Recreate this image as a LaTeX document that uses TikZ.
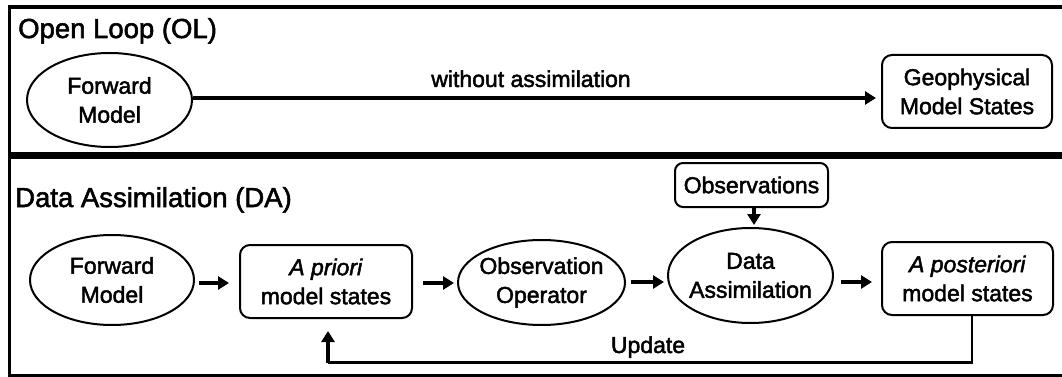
\documentclass[tikz,border=0pt]{standalone}
\usepackage{fontspec}
\setmainfont{Liberation Sans}[FakeBold=2, ItalicFeatures={FakeBold=2}]
\usetikzlibrary{shapes.geometric,arrows.meta}
\begin{document}
\begin{tikzpicture}[x=1pt,y=-1pt,
  every node/.style={inner sep=0pt, font=\fontsize{23}{29}\selectfont},
  oval/.style={ellipse, draw, line width=2pt, align=center, inner xsep=-4pt, inner ysep=0pt},
  rbox/.style={rectangle, rounded corners=10pt, draw, line width=2pt, align=center},
  arr/.style={line width=3.5pt, -{Triangle[length=11pt,width=13pt]}},
  frame/.style={line width=3.5pt},
  paneltitle/.style={font=\fontsize{27.5}{32}\selectfont, anchor=base west}]
\useasboundingbox (0,0) rectangle (1062,377);
% panels
\draw[frame] (9.5,7) rectangle (1063.5,154);
\draw[frame] (9.5,157.5) rectangle (1063.5,375.5);
% Open loop
\node[paneltitle] (t1) at (18,38) {Open Loop (OL)};
\node[oval, minimum width=165pt, minimum height=94pt] (fm1) at (109.5,100) {Forward\\Model};
\node[rbox, minimum width=170pt, minimum height=73pt] (geo) at (967,91.5) {Geophysical\\Model States};
\draw[arr, shorten >=5pt] (fm1.east |- 0,98) -- (geo.west |- 0,98);
\node[anchor=base] (wo) at (531,87) {without assimilation};
% Data assimilation
\node[paneltitle] (t2) at (15,207) {Data Assimilation (DA)};
\node[oval, minimum width=164pt, minimum height=90pt] (fm2) at (112,280) {Forward\\Model};
\node[rbox, minimum width=172pt, minimum height=73pt] (apri) at (326,281.5) {\textit{A priori}\\model states};
\node[oval, minimum width=167pt, minimum height=85pt] (oo) at (541.5,282.5) {Observation\\Operator};
\node[oval, minimum width=165pt, minimum height=95pt] (da) at (750.5,275.5) {Data\\Assimilation};
\node[rbox, rounded corners=8pt, minimum width=153pt, minimum height=44pt] (obs) at (751.5,185) {Observations};
\node[rbox, minimum width=171pt, minimum height=73pt] (apost) at (967.5,278.5) {\textit{A posteriori}\\model states};
\coordinate (ucorner) at (328,362.5);
\draw[arr, shorten <=4pt, shorten >=10pt] (fm2.east |- 0,283) -- (apri.west |- 0,283);
\draw[arr, shorten <=10pt, shorten >=3pt] (apri.east |- 0,283) -- (oo.west |- 0,283);
\draw[arr, shorten <=5pt, shorten >=3pt] (oo.east |- 0,282) -- (da.west |- 0,282);
\draw[arr, shorten <=7pt, shorten >=9pt] (da.east |- 0,282) -- (apost.west |- 0,282);
\draw[arr, shorten >=2pt] (obs.south -| 754,0) -- (da.north -| 754,0);
\draw[line width=2.5pt] ([xshift=4.5pt]apost.south) |- (ucorner);
\draw[arr, shorten >=12pt] (ucorner) -- (apri.south -| ucorner);
\node[anchor=base] (upd) at (648,353) {Update};
\end{tikzpicture}
\end{document}
